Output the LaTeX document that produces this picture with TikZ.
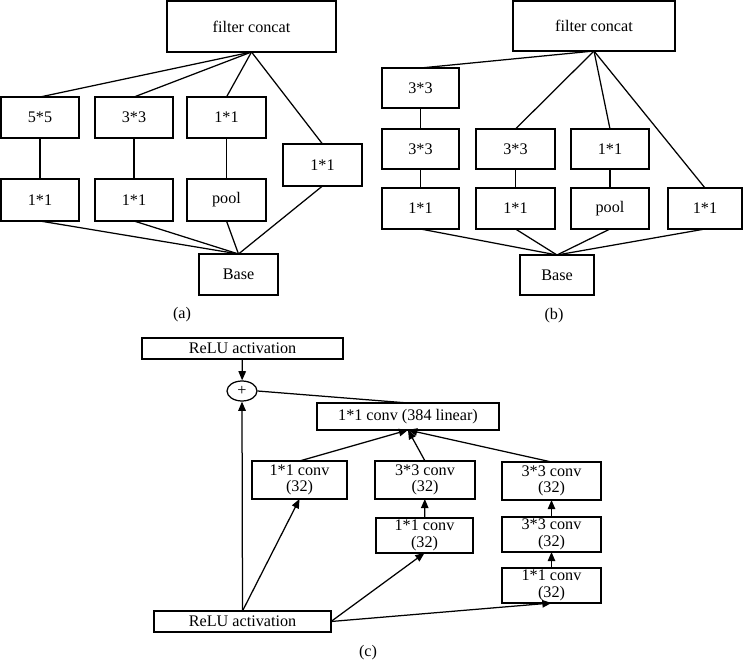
\documentclass[tikz,border=0pt]{standalone}
\usepackage{fontspec}
\setmainfont{Liberation Serif}
\usepackage{tikz}
\usetikzlibrary{calc,
                arrows.meta,
                shapes.geometric
                }

\begin{document}
\begin{tikzpicture}[x=0.6pt, y=-0.6pt,
    line width=0.75pt,
    font=\fontsize{9.7}{10}\selectfont,
    blk/.style={draw, inner sep=0pt, outer sep=0pt, align=center},
    sz/.style 2 args={minimum width=#1*0.6pt, minimum height=#2*0.6pt},
    arr/.style={-{Triangle[length=5.5pt,width=4.5pt]}}]
    \useasboundingbox (0,0) rectangle (743,662);

    \node[blk, sz={169}{51}] (fcA) at (251.5,26.5) {filter concat};
    \node[blk, sz={78}{41}] (a55) at (40,117.5) {5*5};
    \node[blk, sz={78}{41}] (a33) at (134,117.5) {3*3};
    \node[blk, sz={79}{41}] (a11t) at (226.5,117.5) {1*1};
    \node[blk, sz={79}{42}] (a11r) at (322.5,165) {1*1};
    \node[blk, sz={78}{42}] (a11l) at (40,200) {1*1};
    \node[blk, sz={78}{42}] (a11m) at (134,200) {1*1};
    \node[blk, sz={79}{42}] (apool) at (226.5,200) {pool};
    \node[blk, sz={79}{41}] (baseA) at (238.5,274.5) {Base};
    \node (labA) at (182,315) {(a)};

    \foreach \n in {a55,a33,a11t,a11r}
        \draw (fcA.south) -- (\n.north);
    \draw (a55) -- (a11l);
    \draw (a33) -- (a11m);
    \draw (a11t) -- (apool);
    \foreach \n in {a11l,a11m,apool,a11r}
        \draw (\n.south) -- (baseA.north);

    \node[blk, sz={162}{50}] (fcB) at (594,26) {filter concat};
    \node[blk, sz={77}{40}] (b33a) at (420.5,88) {3*3};
    \node[blk, sz={77}{40}] (b33b) at (420.5,149) {3*3};
    \node[blk, sz={77}{41}] (b11a) at (420.5,208.5) {1*1};
    \node[blk, sz={79}{40}] (b33c) at (515.5,149) {3*3};
    \node[blk, sz={79}{41}] (b11b) at (515.5,208.5) {1*1};
    \node[blk, sz={78}{40}] (b11c) at (610,149) {1*1};
    \node[blk, sz={78}{41}] (bpool) at (610,208.5) {pool};
    \node[blk, sz={74}{41}] (b11d) at (705,208.5) {1*1};
    \node[blk, sz={74}{40}] (baseB) at (557,275) {Base};
    \node (labB) at (554,316) {(b)};

    \foreach \n in {b33a,b33c,b11c,b11d}
        \draw (fcB.south) -- (\n.north);
    \draw (b33a) -- (b33b);
    \draw (b33b) -- (b11a);
    \draw (b33c) -- (b11b);
    \draw (b11c) -- (bpool);
    \foreach \n in {b11a,b11b,bpool,b11d}
        \draw (\n.south) -- (baseB.north);

    \node[blk, sz={201}{21}] (reluT) at (242.5,348.5) {ReLU activation};
    \node[draw, ellipse, inner sep=0pt, sz={30}{20}] (plus) at (242,391) {+};
    \node[blk, sz={182}{27}] (lin) at (408,416.5) {1*1 conv (384 linear)};
    \node[blk, sz={95}{38}] (c1) at (299.5,480) {1*1 conv\\(32)};
    \node[blk, sz={100}{38}] (c2t) at (425,480) {3*3 conv\\(32)};
    \node[blk, sz={97}{35}] (c2b) at (424.5,535.5) {1*1 conv\\(32)};
    \node[blk, sz={99}{38}] (c3t) at (551.5,481) {3*3 conv\\(32)};
    \node[blk, sz={99}{35}] (c3m) at (551.5,534.5) {3*3 conv\\(32)};
    \node[blk, sz={99}{35}] (c3b) at (551.5,585.5) {1*1 conv\\(32)};
    \node[blk, sz={177}{21}] (reluB) at (242.5,621.5) {ReLU activation};
    \node (labC) at (368,653) {(c)};

    \draw[arr] (reluT) -- (plus);
    \draw[arr] (reluB.north) -- (plus.south);
    \draw (plus.east) -- (lin.north);
    \foreach \n in {c1,c2t,c3t}
        \draw[arr] (\n.north) -- (lin.south);
    \draw[arr] (reluB.north) -- (c1.south);
    \draw[arr] (reluB.east) -- (c2b.south);
    \draw[arr] (reluB.east) -- (c3b.south);
    \draw[arr] (c2b) -- (c2t);
    \draw[arr] (c3b) -- (c3m);
    \draw[arr] (c3m) -- (c3t);
\end{tikzpicture}
\end{document}
